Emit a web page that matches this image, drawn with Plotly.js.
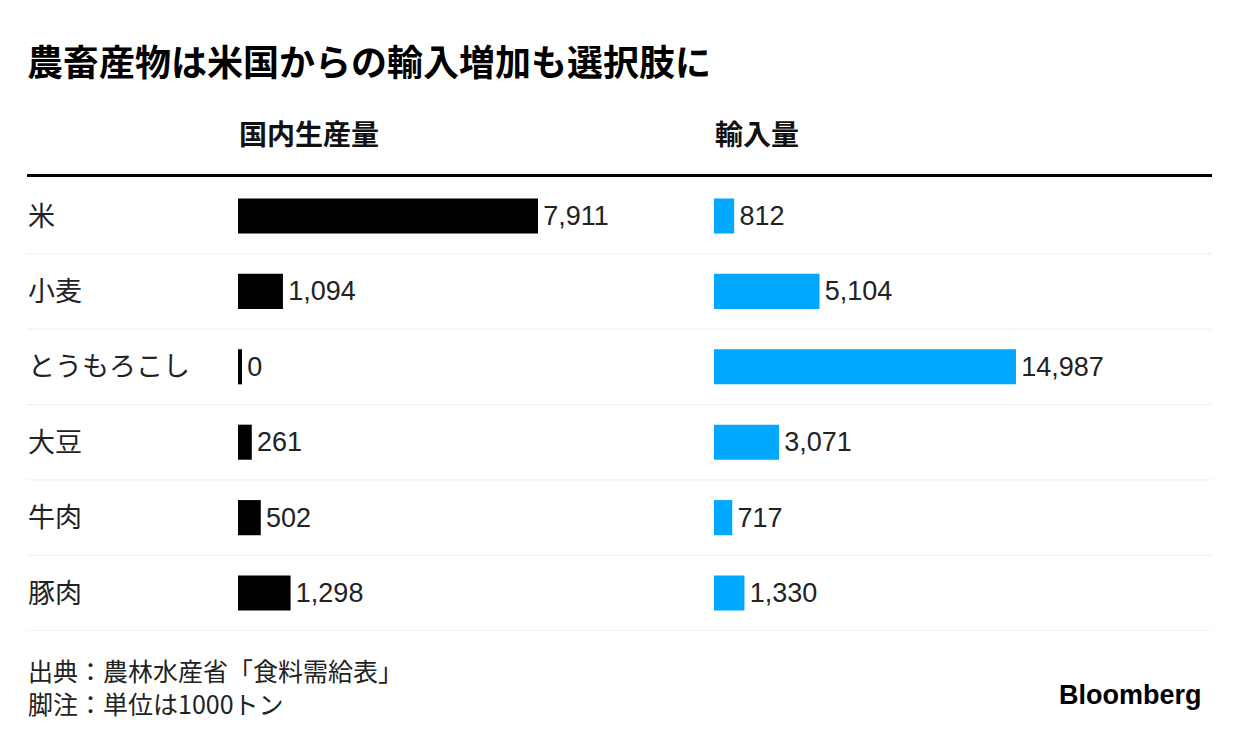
<!DOCTYPE html>
<html>
<head>
<meta charset="utf-8">
<script src="https://cdn.plot.ly/plotly-3.0.1.min.js"></script>
<style>
  html, body { margin: 0; padding: 0; background: #fff; }
  #chart { width: 1240px; height: 740px; }
</style>
</head>
<body>
<div id="chart"></div>
<script>
// ---- data ----
const categories = ['米', '小麦', 'とうもろこし', '大豆', '牛肉', '豚肉'];
const domestic = [7911, 1094, 0, 261, 502, 1298];
const imports = [812, 5104, 14987, 3071, 717, 1330];
const colHeaders = ['国内生産量', '輸入量'];
const titleText = '農畜産物は米国からの輸入増加も選択肢に';
const sourceText = '出典：農林水産省「食料需給表」';
const noteText = '脚注：単位は1000トン';
const brandText = 'Bloomberg';

// ---- layout geometry (pixels) ----
const W = 1240, H = 740;
const minBarPx = 4;           // minimum visible bar stub
const leftStart = 238, leftMaxEnd = 538, leftDomEnd = 700;
const rightStart = 714, rightMaxEnd = 1016, rightDomEnd = 1210;
const rowTop = 178.3, rowBottom = 630.7;

function axisSetup(vals, startPx, maxEndPx, domEndPx) {
  const vmax = Math.max(...vals);
  const k = (maxEndPx - startPx - minBarPx) / vmax; // px per unit
  const m = minBarPx / k;                             // stub in units
  const span = (domEndPx - startPx) / k;
  return { m: m, range: [-m, span - m], domain: [startPx / W, domEndPx / W] };
}
const L = axisSetup(domestic, leftStart, leftMaxEnd, leftDomEnd);
const R = axisSetup(imports, rightStart, rightMaxEnd, rightDomEnd);

const numFont = { family: 'Liberation Sans, Arial, sans-serif', size: 27, color: '#222' };
const jp = 'Noto Sans CJK JP, sans-serif';

const traces = [
  {
    type: 'bar', orientation: 'h',
    y: categories,
    x: domestic.map(v => v + L.m),
    base: domestic.map(() => -L.m),
    customdata: domestic,
    texttemplate: '\u200A%{customdata:,}',
    textposition: 'outside',
    textfont: numFont,
    cliponaxis: false,
    constraintext: 'none',
    marker: { color: '#000000' },
    xaxis: 'x', yaxis: 'y',
    hoverinfo: 'skip'
  },
  {
    type: 'bar', orientation: 'h',
    y: categories,
    x: imports.map(v => v + R.m),
    base: imports.map(() => -R.m),
    customdata: imports,
    texttemplate: '\u200A%{customdata:,}',
    textposition: 'outside',
    textfont: numFont,
    cliponaxis: false,
    constraintext: 'none',
    marker: { color: '#00a9ff' },
    xaxis: 'x2', yaxis: 'y',
    hoverinfo: 'skip'
  }
];

const shapes = [
  { type: 'line', xref: 'paper', yref: 'paper', x0: 27 / W, x1: 1212 / W,
    y0: 1 - 175.5 / H, y1: 1 - 175.5 / H, line: { color: '#000', width: 3 } }
];
categories.forEach((c, i) => {
  shapes.push({ type: 'line', xref: 'paper', yref: 'y', x0: 27 / W, x1: 1212 / W,
    y0: i + 0.5, y1: i + 0.5, line: { color: '#eeeeee', width: 1 }, layer: 'below' });
});

const annotations = [
  { text: '<b>' + titleText + '</b>', xref: 'paper', yref: 'paper', x: 25 / W, y: 1 - 60 / H,
    xanchor: 'left', yanchor: 'middle', showarrow: false,
    font: { family: jp, size: 36, color: '#000' } },
  { text: '<b>' + colHeaders[0] + '</b>', xref: 'paper', yref: 'paper', x: 237 / W, y: 1 - 133 / H,
    xanchor: 'left', yanchor: 'middle', showarrow: false,
    font: { family: jp, size: 28, color: '#111' } },
  { text: '<b>' + colHeaders[1] + '</b>', xref: 'paper', yref: 'paper', x: 713 / W, y: 1 - 133 / H,
    xanchor: 'left', yanchor: 'middle', showarrow: false,
    font: { family: jp, size: 28, color: '#111' } },
  { text: sourceText + '<br>' + noteText, xref: 'paper', yref: 'paper', x: 26 / W, y: 1 - 686 / H,
    xanchor: 'left', yanchor: 'middle', align: 'left', showarrow: false,
    font: { family: jp, size: 25, color: '#222' } },
  { text: '<b>' + brandText + '</b>', xref: 'paper', yref: 'paper', x: 1204 / W, y: 1 - 695 / H,
    xanchor: 'right', yanchor: 'middle', showarrow: false,
    font: { family: 'Liberation Sans, Arial, sans-serif', size: 27, color: '#000' } }
];
categories.forEach((c) => {
  annotations.push({ text: c, xref: 'paper', yref: 'y', x: 26 / W, y: c,
    xanchor: 'left', yanchor: 'middle', yshift: 2, showarrow: false,
    font: { family: jp, size: 27, color: '#222' } });
});

const layout = {
  width: W, height: H,
  margin: { l: 0, r: 0, t: 0, b: 0, pad: 0 },
  paper_bgcolor: '#fff', plot_bgcolor: 'rgba(0,0,0,0)',
  showlegend: false,
  bargap: 0.535,
  xaxis: { domain: L.domain, range: L.range, visible: false, fixedrange: true },
  xaxis2: { domain: R.domain, range: R.range, visible: false, anchor: 'y', fixedrange: true },
  yaxis: { type: 'category', domain: [1 - rowBottom / H, 1 - rowTop / H],
    range: [categories.length - 0.5, -0.5], visible: false, fixedrange: true },
  shapes: shapes,
  annotations: annotations
};

Plotly.newPlot('chart', traces, layout, { displayModeBar: false, staticPlot: true });
</script>
</body>
</html>
